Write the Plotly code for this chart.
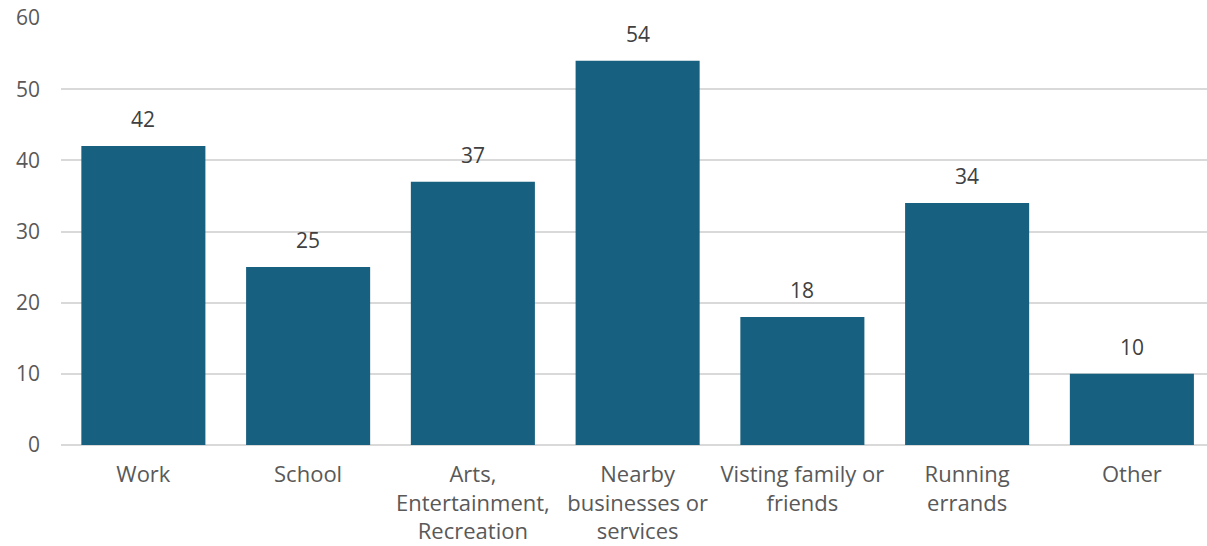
import plotly.graph_objects as go

categories = ["Work", "School", "Arts,<br>Entertainment,<br>Recreation",
              "Nearby<br>businesses or<br>services", "Visting family or<br>friends",
              "Running<br>errands", "Other"]
values = [42, 25, 37, 54, 18, 34, 10]
y_ticks = [0, 10, 20, 30, 40, 50, 60]

fig = go.Figure(go.Bar(
    x=categories, y=values,
    marker=dict(color="#17607F", line=dict(width=0)),
    hoverinfo="x+y",
))

for c, v in zip(categories, values):
    fig.add_annotation(x=c, y=v, text=str(v), showarrow=False,
                       yanchor="middle", yshift=27,
                       font=dict(family="Open Sans", size=21, color="#404040"))

fig.update_layout(
    width=1207, height=546,
    margin=dict(l=61, r=0, t=18, b=101),
    paper_bgcolor="white", plot_bgcolor="white",
    bargap=0.247, showlegend=False,
    font=dict(family="Open Sans", size=21, color="#595959"),
    xaxis=dict(range=[-0.5, 6.456], showgrid=False, showline=False,
               ticks="", ticklabelstandoff=14,
               tickfont=dict(size=22, color="#595959")),
    yaxis=dict(range=[0, 60], tickvals=y_ticks, showgrid=True,
               gridcolor="#d9d9d9", gridwidth=1.5, zeroline=True,
               zerolinecolor="#d9d9d9", zerolinewidth=1.5, showline=False,
               ticks="", ticklabelstandoff=20,
               tickfont=dict(size=21, color="#595959")),
)

fig.write_html("out.html")
